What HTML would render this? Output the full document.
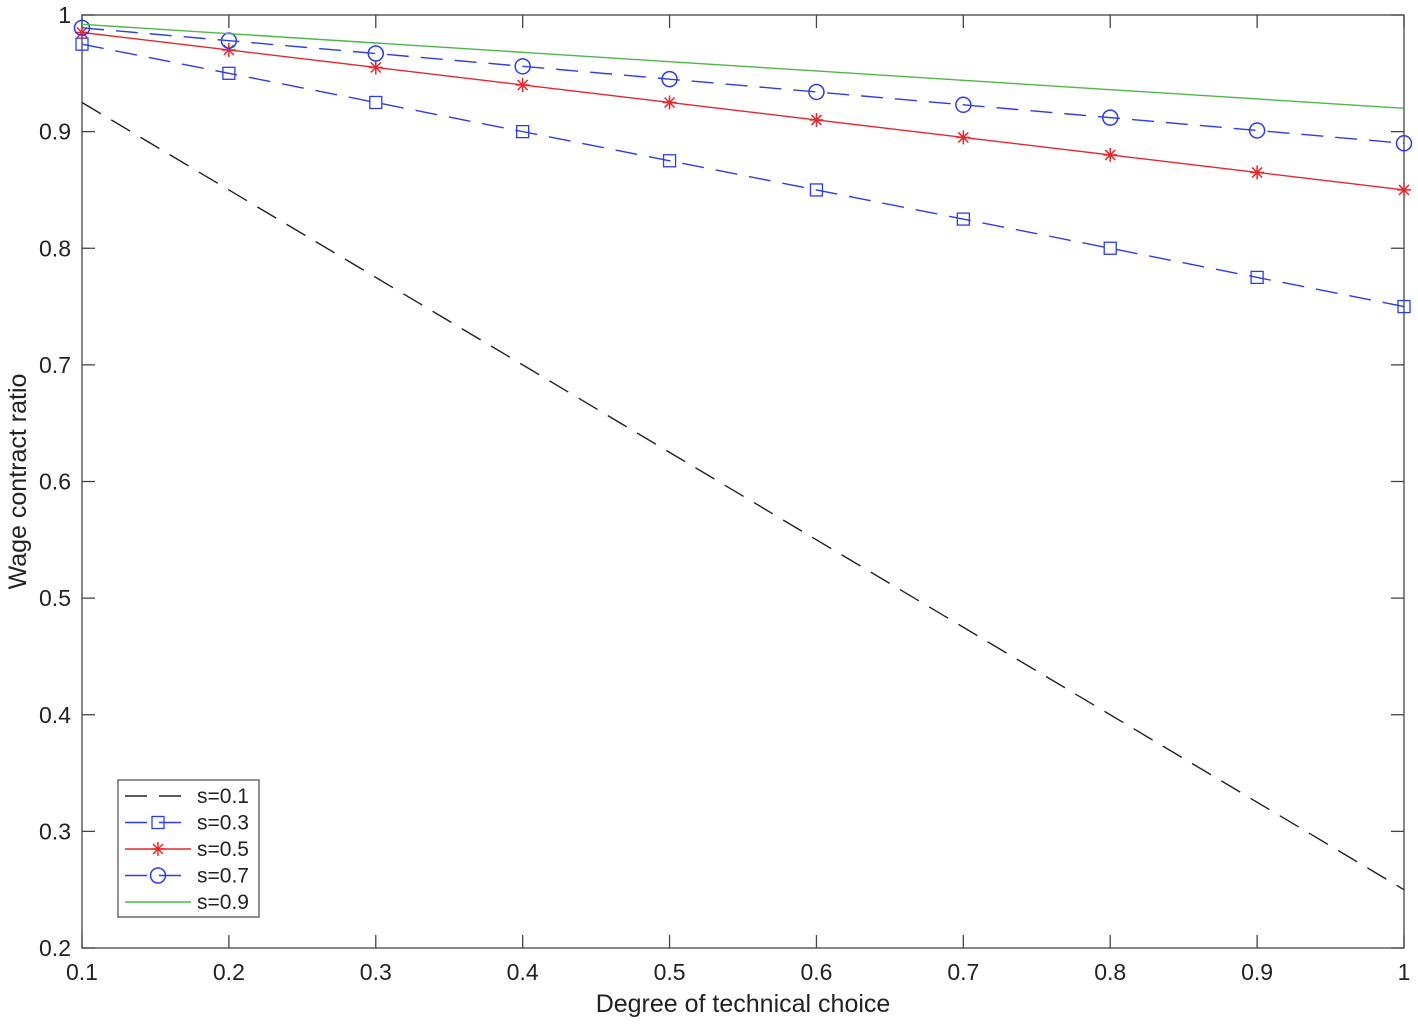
<!DOCTYPE html>
<html><head><meta charset="utf-8"><style>
body{margin:0;background:#fff;}
svg{display:block;font-family:"Liberation Sans",sans-serif;}
</style></head><body>
<svg id="chart" width="1418" height="1024" viewBox="0 0 1418 1024"></svg>
<script>
const xs=[0.1,0.2,0.3,0.4,0.5,0.6,0.7,0.8,0.9,1.0];
const s01=[0.925,0.85,0.775,0.7,0.625,0.55,0.475,0.4,0.325,0.25];
const s03=[0.975,0.95,0.925,0.9,0.875,0.85,0.825,0.8,0.775,0.75];
const s05=[0.985,0.97,0.955,0.94,0.925,0.91,0.895,0.88,0.865,0.85];
const s07=[0.989,0.978,0.967,0.956,0.945,0.934,0.923,0.912,0.901,0.89];
const s09=[0.992,0.984,0.976,0.968,0.96,0.952,0.944,0.936,0.928,0.92];
const xTicks=[0.1,0.2,0.3,0.4,0.5,0.6,0.7,0.8,0.9,1];
const xTickLabels=["0.1","0.2","0.3","0.4","0.5","0.6","0.7","0.8","0.9","1"];
const yTicks=[0.2,0.3,0.4,0.5,0.6,0.7,0.8,0.9,1];
const yTickLabels=["0.2","0.3","0.4","0.5","0.6","0.7","0.8","0.9","1"];
const labels=["s=0.1","s=0.3","s=0.5","s=0.7","s=0.9"];

const L=82,R=1404,T=15,B=948;
const sx=v=>L+(v-0.1)/0.9*(R-L);
const sy=v=>B-(v-0.2)/0.8*(B-T);
const svg=document.getElementById('chart');
const NS="http://www.w3.org/2000/svg";
function mk(tag,attrs,parent){const e=document.createElementNS(NS,tag);for(const k in attrs)e.setAttribute(k,attrs[k]);(parent||svg).appendChild(e);return e;}

const axes=mk('g',{});


const frame=mk('rect',{x:L,y:T,width:R-L,height:B-T,fill:'none',stroke:'#444','stroke-width':1.3},axes);


xTicks.forEach((v,i)=>{
  const x=sx(v);
  mk('line',{x1:x,y1:B,x2:x,y2:B-13,stroke:'#444','stroke-width':1.3},axes);
  mk('line',{x1:x,y1:T,x2:x,y2:T+13,stroke:'#444','stroke-width':1.3},axes);
  const t=mk('text',{x:x,y:B+32,'text-anchor':'middle','font-size':23,fill:'#222'},axes);
  t.textContent=xTickLabels[i];
  
  
});
yTicks.forEach((v,i)=>{
  const y=sy(v);
  mk('line',{x1:L,y1:y,x2:L+13,y2:y,stroke:'#444','stroke-width':1.3},axes);
  mk('line',{x1:R,y1:y,x2:R-13,y2:y,stroke:'#444','stroke-width':1.3},axes);
  const t=mk('text',{x:L-11,y:y+8,'text-anchor':'end','font-size':23,fill:'#222'},axes);
  t.textContent=yTickLabels[i];
  
  
});
const xt=mk('text',{x:(L+R)/2,y:1012,'text-anchor':'middle','font-size':25,fill:'#222'});
xt.textContent='Degree of technical choice';


const yt=mk('text',{x:26,y:(T+B)/2,'text-anchor':'middle','font-size':25,fill:'#222',transform:'rotate(-90 26 '+((T+B)/2)+')'});
yt.textContent='Wage contract ratio';



function marker(g,type,x,y,color){
  if(type==='square') mk('rect',{x:x-6,y:y-6,width:12,height:12,fill:'none',stroke:color,'stroke-width':1.3},g);
  else if(type==='circle') mk('circle',{cx:x,cy:y,r:7.5,fill:'none',stroke:color,'stroke-width':1.5},g);
  else if(type==='star'){
    [[0,-7,0,7],[-7,0,7,0],[-5,-5,5,5],[-5,5,5,-5]].forEach(d=>mk('line',{x1:x+d[0],y1:y+d[1],x2:x+d[2],y2:y+d[3],stroke:color,'stroke-width':1.5},g));
  }
}
const series=[
 {d:s01,c:'#222',dash:'22 12',m:null,n:'series-s01'},
 {d:s03,c:'#2b3bf0',dash:'22 12',m:'square',n:'series-s03'},
 {d:s05,c:'#e8262a',dash:null,m:'star',n:'series-s05'},
 {d:s07,c:'#2b3bf0',dash:'22 12',m:'circle',n:'series-s07'},
 {d:s09,c:'#4db848',dash:null,m:null,n:'series-s09'}
];
series.forEach(s=>{
  const g=mk('g',{});
  
  
  const pts=xs.map((x,i)=>sx(x)+','+sy(s.d[i])).join(' ');
  const a={points:pts,fill:'none',stroke:s.c,'stroke-width':1.4};
  if(s.dash)a['stroke-dasharray']=s.dash;
  mk('polyline',a,g);
  if(s.m) xs.forEach((x,i)=>marker(g,s.m,sx(x),sy(s.d[i]),s.c));
});
const lg=mk('g',{});


mk('rect',{x:118,y:780,width:141,height:137,fill:'#fff',stroke:'#555','stroke-width':1.3},lg);
series.forEach((s,i)=>{
  const y=796+i*26.5;
  const e=mk('g',{},lg);
  
  
  const a={x1:125,y1:y,x2:191,y2:y,stroke:s.c,'stroke-width':1.4};
  if(s.dash)a['stroke-dasharray']=s.dash;
  mk('line',a,e);
  if(s.m) marker(e,s.m,158,y,s.c);
  const t=mk('text',{x:197,y:y+7,'font-size':21,fill:'#222'},e);
  t.textContent=labels[i];
});
</script>
</body></html>
